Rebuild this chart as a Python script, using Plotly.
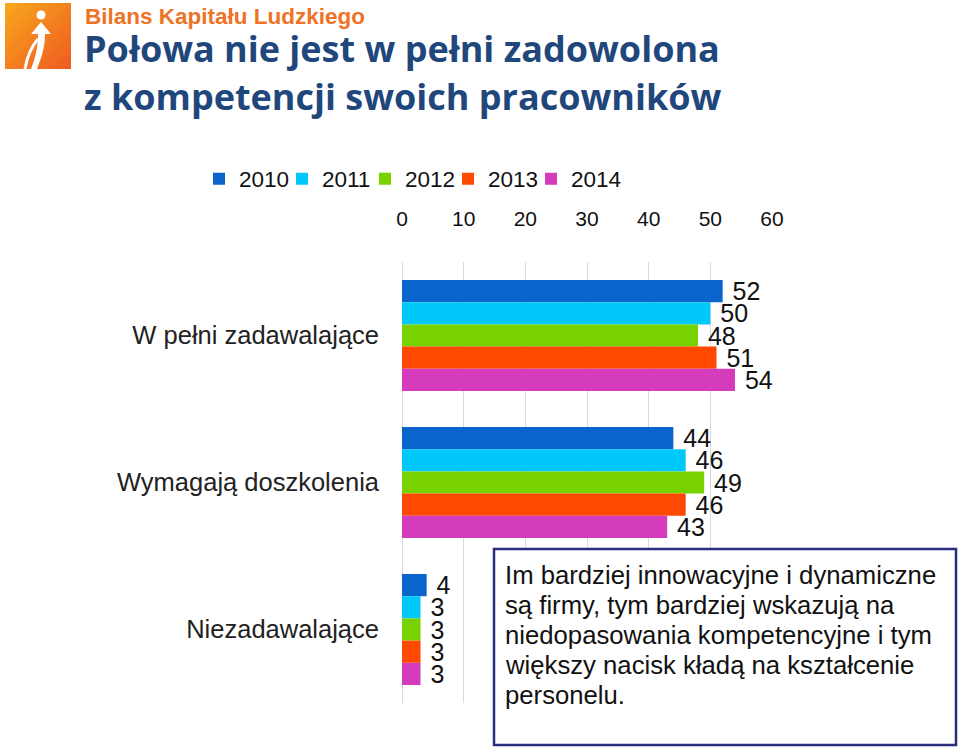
import plotly.graph_objects as go

categories = ["W pełni zadawalające", "Wymagają doszkolenia", "Niezadawalające"]
years = ["2010", "2011", "2012", "2013", "2014"]
values = {
    "2010": [52, 44, 4],
    "2011": [50, 46, 3],
    "2012": [48, 49, 3],
    "2013": [51, 46, 3],
    "2014": [54, 43, 3],
}
colors = {
    "2010": "#0A64CC",
    "2011": "#00C8FA",
    "2012": "#78D200",
    "2013": "#FF4800",
    "2014": "#D43CBC",
}
x_ticks = [0, 10, 20, 30, 40, 50, 60]
header = "Bilans Kapitału Ludzkiego"
title_lines = ["Połowa nie jest w pełni zadowolona", "z kompetencji swoich pracowników"]
note_lines = [
    "Im bardziej innowacyjne i dynamiczne",
    "są firmy, tym bardziej wskazują na",
    "niedopasowania kompetencyjne i tym",
    "większy nacisk kładą na kształcenie",
    "personelu.",
]

W, H = 960, 752
L, R, T, B = 402, 772, 262, 703
def px(x):
    return (x - L) / (R - L)
def py(y):
    return (B - y) / (B - T)

FONT = "Liberation Sans, Arial, sans-serif"

fig = go.Figure()
for yr in years:
    fig.add_trace(go.Bar(
        y=categories, x=values[yr], orientation="h", name=yr,
        marker=dict(color=colors[yr], line=dict(width=0)),
        text=[str(v) for v in values[yr]], texttemplate=" %{text}",
        textposition="outside",
        textfont=dict(size=25, color="#111111", family=FONT),
        constraintext="none", cliponaxis=False,
    ))
# empty spacer entry so the last legend label is not clipped
fig.add_trace(go.Scatter(x=[None], y=[None], mode="markers", name=" ",
                         marker=dict(size=1, color="rgba(0,0,0,0)",
                                     line=dict(width=0, color="rgba(0,0,0,0)")),
                         hoverinfo="skip"))

logo_svg = (
    "data:image/svg+xml;utf8,"
    "<svg xmlns='http://www.w3.org/2000/svg' width='66' height='66' viewBox='0 0 66 66'>"
    "<defs><linearGradient id='g' x1='0' y1='0' x2='1' y2='1'>"
    "<stop offset='0' stop-color='%23F8A81C'/><stop offset='1' stop-color='%23EE5A22'/>"
    "</linearGradient></defs>"
    "<rect width='66' height='66' fill='url(%23g)'/>"
    "<circle cx='36' cy='12' r='4.5' fill='white'/>"
    "<path d='M36 19 L46 31 L40 31 C40 45 36 56 32 66 L26 66 C30 56 33 45 33 31 L26 31 Z' fill='white'/>"
    "<path d='M20 66 C22 54 26 44 33 36' stroke='white' stroke-width='3' fill='none'/>"
    "</svg>"
)

annotations = [
    dict(text="<b>" + header + "</b>", xref="paper", yref="paper",
         x=px(83), y=py(16), xanchor="left", yanchor="middle", showarrow=False,
         font=dict(size=22.5, color="#EE7325", family=FONT)),
    dict(text="<b>" + title_lines[0] + "</b>", xref="paper", yref="paper",
         x=px(82), y=py(48), xanchor="left", yanchor="middle", showarrow=False,
         font=dict(size=36, color="#1F477C", family="Open Sans, sans-serif")),
    dict(text="<b>" + title_lines[1] + "</b>", xref="paper", yref="paper",
         x=px(82), y=py(96), xanchor="left", yanchor="middle", showarrow=False,
         font=dict(size=36, color="#1F477C", family="Open Sans, sans-serif")),
]
for i, line in enumerate(note_lines):
    annotations.append(dict(
        text=line, xref="paper", yref="paper",
        x=px(503), y=py(575 + 30 * i), xanchor="left", yanchor="middle",
        align="left", showarrow=False,
        font=dict(size=25.7, color="#111111", family=FONT)))

fig.update_layout(
    width=W, height=H,
    margin=dict(l=L, r=W - R, t=T, b=H - B, autoexpand=False),
    paper_bgcolor="white", plot_bgcolor="white",
    barmode="group", bargap=0.245, bargroupgap=0,
    font=dict(family=FONT, size=22, color="#222222"),
    showlegend=True,
    legend=dict(orientation="h", xref="paper", yref="paper",
                x=px(199), y=py(179), xanchor="left", yanchor="middle",
                bgcolor="rgba(0,0,0,0)",
                font=dict(size=22.5, color="#111111"), itemwidth=30,
                entrywidth=38, entrywidthmode="pixels",
                traceorder="normal", tracegroupgap=0, itemclick=False),
    xaxis=dict(range=[0, 60], side="top", tickvals=x_ticks, automargin=False,
               showgrid=True, gridcolor="#D9D9D9", gridwidth=1,
               zeroline=True, zerolinecolor="#D9D9D9", zerolinewidth=1,
               showline=False, ticks="", ticklabelstandoff=31,
               tickfont=dict(size=21, color="#111111")),
    yaxis=dict(autorange="reversed", showgrid=False, showline=False, ticks="",
               automargin=False,
               ticklabelstandoff=22, tickfont=dict(size=25.5, color="#222222")),
    images=[dict(source=logo_svg, xref="paper", yref="paper",
                 x=px(5), y=py(3), sizex=px(71) - px(5), sizey=py(3) - py(69),
                 xanchor="left", yanchor="top", sizing="stretch", layer="above")],
    shapes=[dict(type="rect", xref="paper", yref="paper",
                 x0=px(494), x1=px(956), y0=py(549), y1=py(745),
                 line=dict(color="#2B2E80", width=2.5), fillcolor="white", layer="above")],
    annotations=annotations,
)

fig.write_html("out.html", config={"displayModeBar": False},
               post_script="document.body.style.margin='0';")
